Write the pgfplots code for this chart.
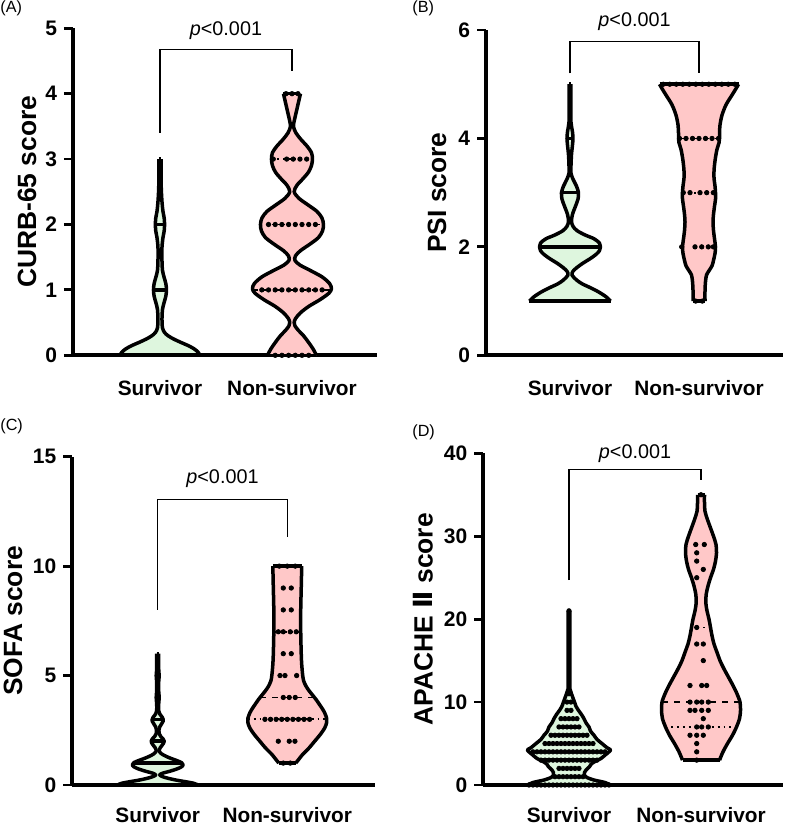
\documentclass[border=0pt]{standalone}
\usepackage{fontspec}
\setmainfont{Liberation Sans}
\newfontfamily\dejavu{DejaVu Sans}
\usepackage{pgfplots}
\pgfplotsset{compat=1.18}
\usepackage{pgfplotstable}
\definecolor{sg}{RGB}{222,246,222}
\definecolor{nr}{RGB}{255,200,200}
\pgfplotsset{
  vp/.style={
    scale only axis, axis lines=left, axis line style={-, line width=2pt},
    ymin=0, xtick={1,2}, xticklabels={Survivor,Non-survivor},
    xticklabel style={font=\bfseries\fontsize{10.4}{12}\selectfont},
    xtick style={draw=none},
    yticklabel style={font=\bfseries\fontsize{10.5}{12}\selectfont},
    ylabel style={font=\bfseries\fontsize{13.2}{15}\selectfont, anchor=center},
    tick align=outside, major tick length=4.5pt, ytick style={line width=1.4pt, black},
    clip=false, /pgf/number format/assume math mode=true,
  },
  vline/.style={black, line width=1.75pt, line join=round, smooth, tension=0.5, mark=none},
  dots/.style={only marks, mark=*, mark size=1.1pt, black},
  rowl/.style={black, line width=1.8pt, mark=none},
  capl/.style={black, line width=1.75pt, mark=none},
  medl/.style={black, line width=0.9pt, dashed, mark=none},
  qrtl/.style={black, line width=0.9pt, dotted, mark=none},
  brk/.style={black, line width=0.6pt, mark=none},
}
% style, center, px per unit, y, half width
\newcommand{\hl}[5]{\addplot[#1] table[x expr={#2+\thisrow{o}/#3}, y=y, row sep=\\] {o y\\ -#5 #4\\ #5 #4\\};}
% center, table, colour, px per unit, ymin, ymax, wmin, wmax
\newcommand{\violin}[8]{%
  \addplot[fill=#3, draw=none, smooth, tension=0.5] table[x expr={#1+\thisrow{w}/#4}, y=y] {#2} -- ([xshift=-0.4pt]axis cs:#1,#6) -- ([xshift=-0.4pt]axis cs:#1,#5) -- cycle;
  \addplot[fill=#3, draw=none, smooth, tension=0.5] table[x expr={#1-\thisrow{w}/#4}, y=y] {#2} -- ([xshift=0.4pt]axis cs:#1,#6) -- ([xshift=0.4pt]axis cs:#1,#5) -- cycle;
  \addplot[vline] table[x expr={#1-\thisrow{w}/#4}, y=y] {#2};
  \addplot[vline] table[x expr={#1+\thisrow{w}/#4}, y=y] {#2};
  \hl{capl}{#1}{#4}{#5}{#7}
  \hl{capl}{#1}{#4}{#6}{#8}
}
\begin{document}
% ---------- violin outlines (y, half width in px) ----------
\pgfplotstableread[row sep=\\]{y w\\
0 40\\ 0.05 38\\ 0.1 34\\ 0.15 28\\ 0.2 20.5\\ 0.25 13.5\\ 0.3 8\\ 0.35 4.5\\ 0.42 2.5\\ 0.55 2\\ 0.7 2.5\\ 0.8 4\\ 0.9 5.8\\ 1.0 6.5\\ 1.1 5.8\\ 1.2 4\\ 1.3 2.5\\ 1.45 2\\ 1.65 2\\ 1.8 3\\ 1.9 4.2\\ 2.0 4.6\\ 2.1 4.2\\ 2.2 3\\ 2.35 2\\ 2.6 1.2\\ 3.0 1.2\\}\vAS
\pgfplotstableread[row sep=\\]{y w\\
0 24.5\\ 0.1 21\\ 0.2 16.5\\ 0.3 11.5\\ 0.38 6.5\\ 0.45 3\\ 0.5 2.2\\ 0.56 3.5\\ 0.65 8.5\\ 0.75 17\\ 0.85 28\\ 0.95 37\\ 1.02 39.5\\ 1.1 37.5\\ 1.2 30\\ 1.3 18\\ 1.38 8\\ 1.45 3\\ 1.52 3.5\\ 1.6 8.5\\ 1.7 18\\ 1.8 26.5\\ 1.9 30.5\\ 2.0 31.5\\ 2.1 30\\ 2.2 25\\ 2.3 16\\ 2.4 7\\ 2.5 2.2\\ 2.6 5\\ 2.7 11\\ 2.8 16.5\\ 2.9 19.5\\ 3.0 20.5\\ 3.1 19.5\\ 3.2 15\\ 3.3 9\\ 3.4 4\\ 3.5 1.5\\ 3.6 2.5\\ 3.7 4\\ 3.8 5.5\\ 3.9 7\\ 4.0 8.5\\}\vAN
\pgfplotstableread[row sep=\\]{y w\\
1.0 40.5\\ 1.08 36\\ 1.17 28.5\\ 1.25 20\\ 1.32 12\\ 1.39 6.5\\ 1.48 2\\ 1.55 3\\ 1.62 7\\ 1.7 13\\ 1.78 20\\ 1.86 26\\ 1.93 29.5\\ 2.0 30.5\\ 2.07 29.5\\ 2.15 24\\ 2.22 15\\ 2.3 7\\ 2.38 3\\ 2.47 1.5\\ 2.6 2.5\\ 2.75 5.5\\ 2.88 8\\ 3.0 8.5\\ 3.12 6.5\\ 3.25 3\\ 3.36 1\\ 3.5 1\\ 3.7 1.5\\ 3.88 2.5\\ 4.0 3\\ 4.12 2.5\\ 4.3 1\\ 4.6 0.8\\ 5.0 0.8\\}\vBS
\pgfplotstableread[row sep=\\]{y w\\
1.0 6\\ 1.2 6\\ 1.36 6.5\\ 1.48 7.5\\ 1.56 10\\ 1.65 13\\ 1.75 14.5\\ 1.88 16\\ 2.0 16.5\\ 2.15 15.5\\ 2.3 14.5\\ 2.46 14\\ 2.6 14.5\\ 2.75 15.5\\ 2.88 16.5\\ 3.0 16.5\\ 3.12 16\\ 3.27 15\\ 3.4 15\\ 3.51 15.5\\ 3.65 16.5\\ 3.8 18\\ 3.92 20\\ 4.0 20.5\\ 4.1 20.5\\ 4.25 21\\ 4.43 23\\ 4.62 27\\ 4.8 33\\ 4.92 37\\ 5.0 39.5\\}\vBN
\pgfplotstableread[row sep=\\]{y w\\
0 40.5\\ 0.08 36\\ 0.15 28\\ 0.22 19\\ 0.3 11\\ 0.38 5\\ 0.46 2\\ 0.54 5\\ 0.62 11.5\\ 0.72 18.5\\ 0.82 23.5\\ 0.92 25.5\\ 1.02 24\\ 1.12 19\\ 1.22 13\\ 1.32 8\\ 1.42 4\\ 1.55 1.5\\ 1.7 2.5\\ 1.82 4.5\\ 1.92 6\\ 2.0 6.5\\ 2.1 5.5\\ 2.22 3\\ 2.35 1.5\\ 2.5 1.2\\ 2.65 2\\ 2.8 4\\ 2.92 5.5\\ 3.0 5.5\\ 3.1 4.5\\ 3.25 2\\ 3.4 1\\ 3.7 1\\ 4.0 1.5\\ 4.3 1\\ 4.7 1\\ 5.0 1.5\\ 5.3 1\\ 6.0 1\\}\vCS
\pgfplotstableread[row sep=\\]{y w\\
1.0 8.5\\ 1.2 12\\ 1.4 15.5\\ 1.7 22\\ 2.0 27.5\\ 2.3 33\\ 2.6 37.5\\ 2.85 39.5\\ 3.05 39.5\\ 3.3 37.5\\ 3.5 35\\ 3.7 32\\ 3.9 29\\ 4.1 25.5\\ 4.3 22\\ 4.5 19\\ 4.75 16.5\\ 5.0 15.5\\ 5.5 14.5\\ 6.0 14\\ 7.0 13.5\\ 8.0 13.5\\ 9.0 14\\ 10.0 14.5\\}\vCN
\pgfplotstableread[row sep=\\]{y w\\
0 41.5\\ 0.3 36\\ 0.6 25\\ 0.9 18\\ 1.2 15.5\\ 1.5 15.5\\ 1.8 17\\ 2.2 20.5\\ 2.5 22\\ 2.8 25.5\\ 3.2 32\\ 3.6 36\\ 4.0 40\\ 4.25 41.5\\ 4.5 38\\ 5.0 33\\ 5.5 28\\ 6.0 25\\ 6.5 21.5\\ 7.0 20\\ 7.5 17\\ 8.0 15\\ 8.5 12.5\\ 9.0 9.5\\ 9.5 7\\ 10.0 5.5\\ 10.5 4\\ 11.0 2.5\\ 11.5 1.2\\ 12.5 0.8\\ 21 0.8\\}\vDS
\pgfplotstableread[row sep=\\]{y w\\
3 18.5\\ 4 22\\ 5 26.5\\ 6 31.5\\ 7 35.5\\ 8 38.5\\ 9 39.5\\ 10 39\\ 11 36\\ 12 32\\ 13 27.5\\ 14 23\\ 15 19\\ 16 16\\ 17 13\\ 18 11\\ 19 9.5\\ 20 8\\ 21 6\\ 22 4.8\\ 23 5.2\\ 24 7\\ 25 9.5\\ 26 12.5\\ 27 14.5\\ 28 15.5\\ 29 15\\ 30 12.5\\ 31 9.5\\ 32 6.5\\ 33 4\\ 34 3.5\\ 35 3.5\\}\vDN
% ---------- individual values (offset in px, value) ----------
\pgfplotstableread[row sep=\\]{o y\\
-6 4\\ 0 4\\ 6 4\\
-18.7 3\\ -5.3 3\\ 1.3 3\\ 8 3\\ 14.7 3\\
-23.45 2\\ -16.75 2\\ -10.05 2\\ -3.35 2\\ 3.35 2\\ 10.05 2\\ 16.75 2\\ 23.45 2\\
-30.15 1\\ -23.45 1\\ -16.75 1\\ -10.05 1\\ -3.35 1\\ 3.35 1\\ 10.05 1\\ 16.75 1\\ 23.45 1\\ 30.15 1\\
-16.75 0\\ -10.05 0\\ -3.35 0\\ 3.35 0\\ 10.05 0\\ 16.75 0\\}\dAN
\pgfplotstableread[row sep=\\]{o y\\
-35.75 5\\ -29.25 5\\ -22.75 5\\ -16.25 5\\ -9.75 5\\ -3.25 5\\ 3.25 5\\ 9.75 5\\ 16.25 5\\ 22.75 5\\ 29.25 5\\ 35.75 5\\
-19.5 4\\ -13 4\\ -6.5 4\\ 0 4\\ 6.5 4\\ 13 4\\ 19.5 4\\
-15.7 3\\ -9 3\\ 1 3\\ 7.7 3\\ 14.3 3\\
-17.3 2\\ -4 2\\ 2.7 2\\ 9.3 2\\ 14.3 2\\
-3.3 1\\ 3.3 1\\}\dBN
\pgfplotstableread[row sep=\\]{o y\\
-8 10\\ 0 10\\ 8 10\\
-4 9\\ 4 9\\
-4 8\\ 4 8\\
-9 7\\ -4 7\\ 3 7\\ 9 7\\
-4 6\\ 4 6\\
-7.3 5\\ -2.3 5\\ 9.4 5\\
-4 4\\ 2 4\\ 8 4\\
-22.4 3\\ -16.8 3\\ -11.2 3\\ -5.6 3\\ 0 3\\ 5.6 3\\ 11.2 3\\ 16.8 3\\ 22.4 3\\
-9 2\\ 2 2\\ 7.7 2\\
-4 1\\ 3 1\\}\dCN
\pgfplotstableread[row sep=\\]{o y\\
0 35\\ -5.3 29\\ 3.3 29\\ -4.3 28\\ -4.3 27\\ 2.3 26\\ -4.3 25\\ -4.3 19\\ -4.3 17\\ 2.3 17\\ 2.3 15\\
-11 12\\ 0.7 12\\ 5.7 12\\
-11 10\\ -4.3 10\\ 0.7 10\\ 7.3 10\\
-11 9\\ -6 9\\ 0.7 9\\ 7.3 9\\
2.3 8\\ -4.3 7\\ 0.7 7\\ 7.3 7\\ -11 6\\ -4.3 6\\ 2.3 6\\ -4.3 5\\ -4.3 4\\ -4.3 3\\}\dDN
\pgfplotstableread[row sep=\\]{o y\\
-40 0\\ -36 0\\ -32 0\\ -28 0\\ -24 0\\ -20 0\\ -16 0\\ -12 0\\ -8 0\\ -4 0\\ 0 0\\ 4 0\\ 8 0\\ 12 0\\ 16 0\\ 20 0\\ 24 0\\ 28 0\\ 32 0\\ 36 0\\ 40 0\\
-14 1\\ -10 1\\ -6 1\\ -2 1\\ 2 1\\ 6 1\\ 10 1\\ 14 1\\
-10 2\\ -6 2\\ -2 2\\ 2 2\\ 6 2\\ 10 2\\
-28 3\\ -24 3\\ -20 3\\ -16 3\\ -12 3\\ -8 3\\ -4 3\\ 0 3\\ 4 3\\ 8 3\\ 12 3\\ 16 3\\ 20 3\\ 24 3\\ 28 3\\
-36 4\\ -32 4\\ -28 4\\ -24 4\\ -20 4\\ -16 4\\ -12 4\\ -8 4\\ -4 4\\ 0 4\\ 4 4\\ 8 4\\ 12 4\\ 16 4\\ 20 4\\ 24 4\\ 28 4\\ 32 4\\ 36 4\\
-24 5\\ -20 5\\ -16 5\\ -12 5\\ -8 5\\ -4 5\\ 0 5\\ 4 5\\ 8 5\\ 12 5\\ 16 5\\ 20 5\\ 24 5\\
-18 6\\ -14 6\\ -10 6\\ -6 6\\ -2 6\\ 2 6\\ 6 6\\ 10 6\\ 14 6\\ 18 6\\
-10 7\\ -6 7\\ -2 7\\ 2 7\\ 6 7\\ 10 7\\
-8 8\\ -4 8\\ 0 8\\ 4 8\\ 8 8\\
-2 9\\ 2 9\\ -2 10\\ 2 10\\ 0 11\\ 0 21\\}\dDS
\begin{tikzpicture}
\useasboundingbox (0,0) rectangle (394.5pt,413pt);
% ================= (A) =================
\begin{axis}[vp, at={(36.5pt,235.35pt)}, anchor=south west, width=151.85pt, height=163.5pt,
  xmin=0.341, xmax=2.642, ymax=5, ytick={0,1,2,3,4,5},
  xticklabel style={yshift=-4.5pt},
  ylabel={CURB-65 score}, ylabel style={at={(axis description cs:-0.1515,0.5)}}]
\violin{1}{\vAS}{sg}{132}{0}{3}{40}{1.2}
\hl{rowl}{1}{132}{0}{40}
\hl{rowl}{1}{132}{1}{6.5}
\hl{rowl}{1}{132}{2}{4.6}
\violin{2}{\vAN}{nr}{132}{0}{4}{24.5}{8.5}
\hl{medl}{2}{132}{1}{39.5}
\hl{qrtl}{2}{132}{2}{31.5}
\hl{qrtl}{2}{132}{3}{20.5}
\addplot[dots] table[x expr={2+\thisrow{o}/132}, y=y] {\dAN};
\addplot[brk] coordinates {(1,3.4) (1,4.67) (2,4.67) (2,4.35)};
\node[font=\fontsize{9.9}{12}\selectfont] at (axis cs:1.5,4.97) {\textit{p}<0.001};
\end{axis}
% ================= (B) =================
\begin{axis}[vp, at={(243pt,235.35pt)}, anchor=south west, width=148.5pt, height=162.65pt,
  xmin=0.349, xmax=2.651, ymax=6, ytick={0,2,4,6},
  xticklabel style={yshift=-4.5pt},
  ylabel={PSI score}, ylabel style={at={(axis description cs:-0.165,0.5)}}]
\violin{1}{\vBS}{sg}{129}{1}{5}{40.5}{0.8}
\hl{rowl}{1}{129}{1}{40.5}
\hl{rowl}{1}{129}{2}{30.5}
\hl{rowl}{1}{129}{3}{8.5}
\hl{rowl}{1}{129}{4}{3}
\violin{2}{\vBN}{nr}{129}{1}{5}{6}{39.5}
\hl{medl}{2}{129}{4}{20.5}
\hl{qrtl}{2}{129}{3}{16.5}
\addplot[dots] table[x expr={2+\thisrow{o}/129}, y=y] {\dBN};
\addplot[brk] coordinates {(1,5.2) (1,5.79) (2,5.79) (2,5.2)};
\node[font=\fontsize{9.9}{12}\selectfont] at (axis cs:1.5,6.15) {\textit{p}<0.001};
\end{axis}
% ================= (C) =================
\begin{axis}[vp, at={(36.15pt,20.5pt)}, anchor=south west, width=151.35pt, height=164.15pt,
  xmin=0.341, xmax=2.677, ymax=15, ytick={0,5,10,15},
  xticklabel style={yshift=-3pt},
  ylabel={SOFA score}, ylabel style={at={(axis description cs:-0.196,0.5)}}]
\violin{1}{\vCS}{sg}{130}{0}{6}{40.5}{1}
\hl{rowl}{1}{130}{0}{40.5}
\hl{rowl}{1}{130}{1}{24}
\hl{rowl}{1}{130}{2}{6.5}
\hl{rowl}{1}{130}{3}{5.5}
\violin{2}{\vCN}{nr}{130}{1}{10}{8.5}{14.5}
\hl{qrtl}{2}{130}{7}{13.5}
\hl{medl}{2}{130}{4}{27}
\hl{qrtl}{2}{130}{3}{39.5}
\addplot[dots] table[x expr={2+\thisrow{o}/130}, y=y] {\dCN};
\addplot[brk] coordinates {(1,8.0) (1,13.06) (2,13.06) (2,11.35)};
\node[font=\fontsize{9.9}{12}\selectfont] at (axis cs:1.5,14.02) {\textit{p}<0.001};
\end{axis}
% ================= (D) =================
\begin{axis}[vp, at={(241.65pt,20.5pt)}, anchor=south west, width=149.85pt, height=165.85pt,
  xmin=0.351, xmax=2.621, ymax=40, ytick={0,10,20,30,40},
  xticklabel style={yshift=-3pt},
  ylabel={APACHE {\dejavu\bfseries Ⅱ} score}, ylabel style={at={(axis description cs:-0.201,0.5)}}]
\violin{1}{\vDS}{sg}{132}{0}{21}{41.5}{0.8}
\violin{2}{\vDN}{nr}{132}{3}{35}{18.5}{3.5}
\hl{qrtl}{2}{132}{19}{9.5}
\hl{medl}{2}{132}{10}{39}
\hl{qrtl}{2}{132}{7}{35.5}
\addplot[dots] table[x expr={1+\thisrow{o}/132}, y=y] {\dDS};
\addplot[dots] table[x expr={2+\thisrow{o}/132}, y=y] {\dDN};
\addplot[brk] coordinates {(1,24.7) (1,38.0) (2,38.0) (2,36.8)};
\node[font=\fontsize{9.9}{12}\selectfont] at (axis cs:1.5,40.0) {\textit{p}<0.001};
\end{axis}
% panel letters
\node[anchor=west, font=\fontsize{8.1}{10}\selectfont, inner sep=0pt] at (0pt,409pt) {(A)};
\node[anchor=west, font=\fontsize{8.1}{10}\selectfont, inner sep=0pt] at (206pt,409pt) {(B)};
\node[anchor=west, font=\fontsize{8.1}{10}\selectfont, inner sep=0pt] at (0pt,200pt) {(C)};
\node[anchor=west, font=\fontsize{8.1}{10}\selectfont, inner sep=0pt] at (206pt,197pt) {(D)};
\end{tikzpicture}
\end{document}
